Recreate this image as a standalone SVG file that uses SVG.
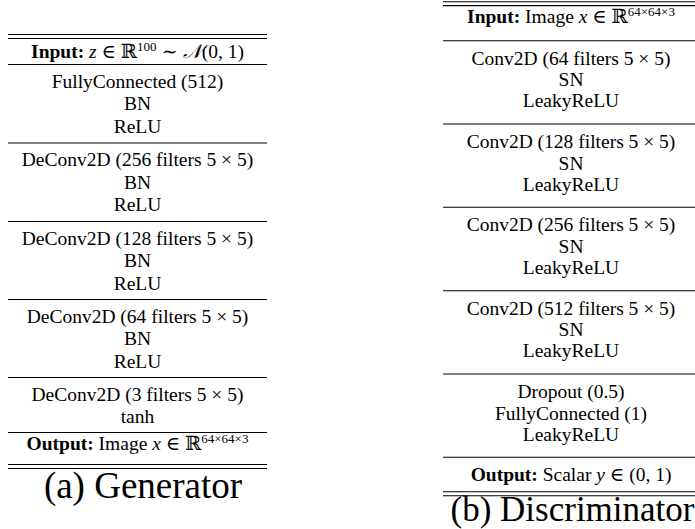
<svg xmlns="http://www.w3.org/2000/svg" width="695" height="529" viewBox="0 0 695 529">
<style>
text{font-family:"Liberation Serif","Times New Roman",Tinos,"Nimbus Roman","DejaVu Serif","Noto Serif",serif;font-size:19.5px;fill:#000;text-anchor:middle}
.b{font-weight:bold}
.i{font-style:italic}
.sup{font-size:13px}
.cap{font-size:35px}
line{stroke:#000;stroke-width:1.1}
</style>
<rect width="695" height="529" fill="#fff"/>
<g id="generator">
  <g id="g-rules">
    <line x1="8" y1="34.5" x2="267" y2="34.5"/>
    <line x1="8" y1="38.5" x2="267" y2="38.5"/>
    <line x1="8" y1="64.5" x2="267" y2="64.5"/>
    <line x1="8" y1="143" x2="267" y2="143"/>
    <line x1="8" y1="221.5" x2="267" y2="221.5"/>
    <line x1="8" y1="299.5" x2="267" y2="299.5"/>
    <line x1="8" y1="377.5" x2="267" y2="377.5"/>
    <line x1="8" y1="432.5" x2="267" y2="432.5"/>
    <line x1="8" y1="464.5" x2="267" y2="464.5"/>
    <line x1="8" y1="468.5" x2="267" y2="468.5"/>
  </g>
  <g id="g-input"><text x="137.5" y="57.5"><tspan class="b">Input:</tspan> <tspan class="i">z</tspan> ∈ ℝ<tspan class="sup" baseline-shift="super">100</tspan> ∼ <tspan class="i">𝒩</tspan>(0, 1)</text></g>
  <g id="g-fc">
    <text x="137.5" y="87.5">FullyConnected (512)</text>
    <text x="137.5" y="110">BN</text>
    <text x="137.5" y="132.5">ReLU</text>
  </g>
  <g id="g-deconv256">
    <text x="137.5" y="166">DeConv2D (256 filters 5 × 5)</text>
    <text x="137.5" y="188.5">BN</text>
    <text x="137.5" y="211">ReLU</text>
  </g>
  <g id="g-deconv128">
    <text x="137.5" y="244.5">DeConv2D (128 filters 5 × 5)</text>
    <text x="137.5" y="267">BN</text>
    <text x="137.5" y="289.5">ReLU</text>
  </g>
  <g id="g-deconv64">
    <text x="137.5" y="322.5">DeConv2D (64 filters 5 × 5)</text>
    <text x="137.5" y="345">BN</text>
    <text x="137.5" y="367.5">ReLU</text>
  </g>
  <g id="g-deconv3">
    <text x="137.5" y="401">DeConv2D (3 filters 5 × 5)</text>
    <text x="137.5" y="423">tanh</text>
  </g>
  <g id="g-output"><text x="137.5" y="450"><tspan class="b">Output:</tspan> Image <tspan class="i">x</tspan> ∈ ℝ<tspan class="sup" baseline-shift="super">64×64×3</tspan></text></g>
  <text class="cap" x="143" y="498" style="font-size:37px">(a) Generator</text>
</g>
<g id="discriminator">
  <g id="d-rules">
    <line x1="443" y1="1.8" x2="700" y2="1.8"/>
    <line x1="443" y1="5.6" x2="700" y2="5.6"/>
    <line x1="443" y1="40.7" x2="700" y2="40.7"/>
    <line x1="443" y1="124" x2="700" y2="124"/>
    <line x1="443" y1="207.3" x2="700" y2="207.3"/>
    <line x1="443" y1="290.7" x2="700" y2="290.7"/>
    <line x1="443" y1="374" x2="700" y2="374"/>
    <line x1="443" y1="457.3" x2="700" y2="457.3"/>
    <line x1="443" y1="491.7" x2="700" y2="491.7"/>
    <line x1="443" y1="495.7" x2="700" y2="495.7"/>
  </g>
  <g id="d-input"><text x="571" y="23.3"><tspan class="b">Input:</tspan> Image <tspan class="i">x</tspan> ∈ ℝ<tspan class="sup" baseline-shift="super">64×64×3</tspan></text></g>
  <g id="d-conv64">
    <text x="571" y="64.7">Conv2D (64 filters 5 × 5)</text>
    <text x="571" y="86.2">SN</text>
    <text x="571" y="107.2">LeakyReLU</text>
  </g>
  <g id="d-conv128">
    <text x="571" y="148">Conv2D (128 filters 5 × 5)</text>
    <text x="571" y="169.5">SN</text>
    <text x="571" y="190.5">LeakyReLU</text>
  </g>
  <g id="d-conv256">
    <text x="571" y="231.3">Conv2D (256 filters 5 × 5)</text>
    <text x="571" y="252.8">SN</text>
    <text x="571" y="273.8">LeakyReLU</text>
  </g>
  <g id="d-conv512">
    <text x="571" y="314.7">Conv2D (512 filters 5 × 5)</text>
    <text x="571" y="336.2">SN</text>
    <text x="571" y="357.2">LeakyReLU</text>
  </g>
  <g id="d-fc">
    <text x="571" y="398">Dropout (0.5)</text>
    <text x="571" y="419.5">FullyConnected (1)</text>
    <text x="571" y="440.5">LeakyReLU</text>
  </g>
  <g id="d-output"><text x="571" y="481"><tspan class="b">Output:</tspan> Scalar <tspan class="i">y</tspan> ∈ (0, 1)</text></g>
  <text class="cap" x="572.5" y="521">(b) Discriminator</text>
</g>
</svg>
